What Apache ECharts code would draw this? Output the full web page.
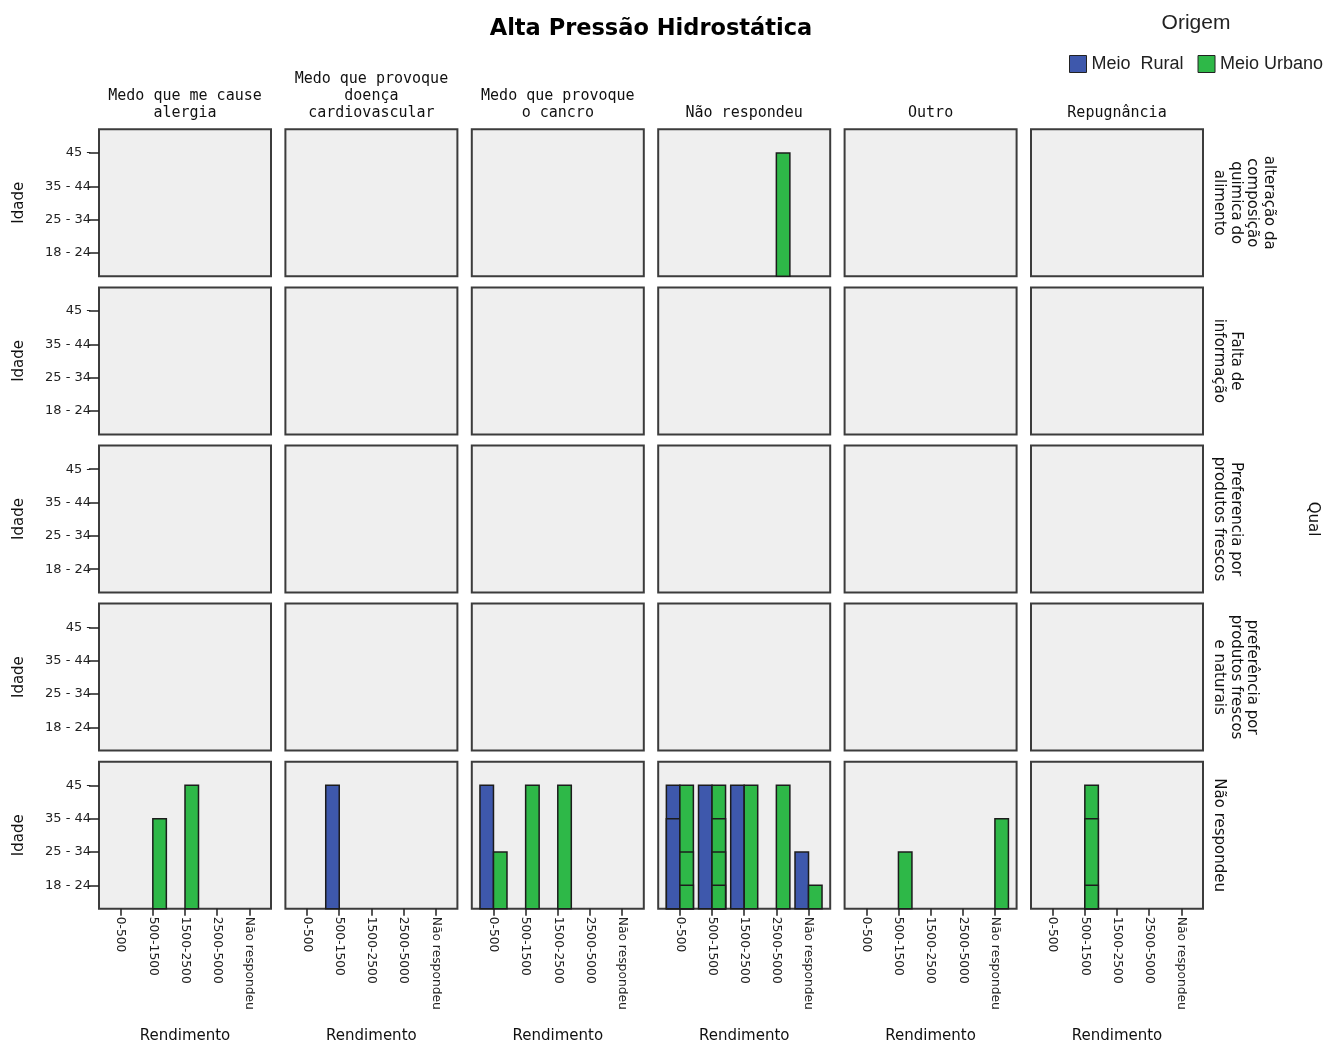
<!DOCTYPE html>
<html>
<head>
<meta charset="utf-8">
<script src="https://cdn.jsdelivr.net/npm/echarts@6/dist/echarts.min.js"></script>
<style>
  html, body { margin: 0; padding: 0; background: #fff; }
  #chart { width: 1330px; height: 1048px; }
</style>
</head>
<body>
<div id="chart"></div>
<script>
// Category labels
const ageLevels = ['18 - 24', '25 - 34', '35 - 44', '45 -'];
const incomeCats = ['0-500', '500-1500', '1500-2500', '2500-5000', 'Não respondeu'];
const reasonCols = [
  'Medo que me cause\nalergia',
  'Medo que provoque\ndoença\ncardiovascular',
  'Medo que provoque\no cancro',
  'Não respondeu',
  'Outro',
  'Repugnância'
];
const whichRows = [
  'alteração da\ncomposição\nquimica do\nalimento',
  'Falta de\ninformação',
  'Preferencia por\nprodutos frescos',
  'preferência por\nprodutos frescos\ne naturais',
  'Não respondeu'
];
const origins = ['Meio  Rural', 'Meio Urbano'];
const originColors = ['#3e58ac', '#2eb848'];

// Cases: [row (Qual), column (motivo), income index, age index]
const ruralCases = [
  [4, 1, 1, 3],
  [4, 2, 0, 3],
  [4, 3, 0, 3], [4, 3, 0, 2],
  [4, 3, 1, 3],
  [4, 3, 2, 3],
  [4, 3, 4, 1]
];
const urbanCases = [
  [0, 3, 3, 3],
  [4, 0, 1, 2], [4, 0, 2, 3],
  [4, 2, 0, 1], [4, 2, 1, 3], [4, 2, 2, 3],
  [4, 3, 0, 3], [4, 3, 0, 1], [4, 3, 0, 0],
  [4, 3, 1, 3], [4, 3, 1, 2], [4, 3, 1, 1], [4, 3, 1, 0],
  [4, 3, 2, 3],
  [4, 3, 3, 3],
  [4, 3, 4, 0],
  [4, 4, 1, 1], [4, 4, 4, 2],
  [4, 5, 1, 3], [4, 5, 1, 2], [4, 5, 1, 0]
];

// Panel layout
const COL_LEFT0 = 99, COL_STEP = 186.4, GRID_W = 172;
const ROW_TOP0 = 129.3, ROW_STEP = 158.1, GRID_H = 147;
const X_MIN = -0.674, X_MAX = 4.674;
const Y_MIN = -0.70, Y_MAX = 3.71;
const BAR_W = 0.42;

const nRows = whichRows.length, nCols = reasonCols.length;
const grids = [], xAxes = [], yAxes = [], series = [];
const TXT = '#111';

function makeRender(side) {
  return function (params, api) {
    const x = api.value(0), a = api.value(1);
    const top = api.coord([x, a]);
    const base = api.coord([x, Y_MIN]);
    const w = api.size([BAR_W, 0])[0];
    return {
      type: 'rect',
      shape: { x: side < 0 ? top[0] - w : top[0], y: top[1], width: w, height: base[1] - top[1] },
      style: { fill: api.visual('color'), stroke: '#1c1c1c', lineWidth: 1.5 }
    };
  };
}

let gi = 0;
for (let r = 0; r < nRows; r++) {
  for (let c = 0; c < nCols; c++) {
    const isBottom = r === nRows - 1, isLeft = c === 0;
    grids.push({
      left: COL_LEFT0 + c * COL_STEP, top: ROW_TOP0 + r * ROW_STEP,
      width: GRID_W, height: GRID_H,
      show: true, backgroundColor: '#efefef', borderColor: '#3c3c3c', borderWidth: 2
    });
    xAxes.push({
      type: 'value', gridIndex: gi, min: X_MIN, max: X_MAX, position: 'bottom',
      splitLine: { show: false }, axisLine: { show: false, onZero: false },
      axisTick: { show: isBottom, length: 7, customValues: [0, 1, 2, 3, 4], lineStyle: { color: '#222', width: 1.5 } },
      axisLabel: {
        show: isBottom, rotate: -90, margin: 8, customValues: [0, 1, 2, 3, 4],
        formatter: v => incomeCats[Math.round(v)],
        fontFamily: 'DejaVu Sans', fontSize: 12.3, color: '#222'
      },
      name: isBottom ? 'Rendimento' : '', nameLocation: 'middle', nameGap: 120,
      nameTextStyle: { fontFamily: 'DejaVu Sans', fontSize: 15, color: TXT }
    });
    yAxes.push({
      type: 'value', gridIndex: gi, min: Y_MIN, max: Y_MAX, position: 'left',
      splitLine: { show: false }, axisLine: { show: false, onZero: false },
      axisTick: { show: isLeft, length: 10, customValues: [0, 1, 2, 3], lineStyle: { color: '#222', width: 1.5 } },
      axisLabel: {
        show: isLeft, margin: 8, customValues: [0, 1, 2, 3],
        formatter: v => ageLevels[Math.round(v)],
        fontFamily: 'DejaVu Sans', fontSize: 13, color: '#222'
      },
      name: isLeft ? 'Idade' : '', nameLocation: 'middle', nameRotate: 90, nameGap: 72,
      nameTextStyle: { fontFamily: 'DejaVu Sans', fontSize: 15, color: TXT }
    });
    [ruralCases, urbanCases].forEach((cases, k) => {
      const pts = cases
        .filter(d => d[0] === r && d[1] === c)
        .map(d => [d[2], d[3]])
        .sort((p, q) => q[1] - p[1]); // taller bars first so shorter tops stay visible
      series.push({
        type: 'custom', name: origins[k], xAxisIndex: gi, yAxisIndex: gi,
        itemStyle: { color: originColors[k], borderColor: '#1c1c1c', borderWidth: 1 },
        renderItem: makeRender(k === 0 ? -1 : 1),
        encode: { x: 0, y: 1 },
        data: pts, silent: true
      });
    });
    gi++;
  }
}

const graphics = [];
// Chart title
graphics.push({
  type: 'text', x: COL_LEFT0 + ((nCols - 1) * COL_STEP + GRID_W) / 2, y: 29,
  style: { text: 'Alta Pressão Hidrostática', align: 'center', verticalAlign: 'middle',
           font: 'bold 22.5px "DejaVu Sans"', fill: '#000' }
});
// Legend heading
graphics.push({
  type: 'text', x: 1196, y: 23,
  style: { text: 'Origem', align: 'center', verticalAlign: 'middle',
           font: '21px "Liberation Sans"', fill: '#222' }
});
// Column headers
reasonCols.forEach((t, c) => {
  graphics.push({
    type: 'text', x: COL_LEFT0 + c * COL_STEP + GRID_W / 2, y: 122,
    style: { text: t, align: 'center', verticalAlign: 'bottom', lineHeight: 17,
             font: '15px "DejaVu Sans Mono"', fill: TXT }
  });
});
// Row headers (rotated)
whichRows.forEach((t, r) => {
  graphics.push({
    type: 'text', x: 1211, y: ROW_TOP0 + r * ROW_STEP + GRID_H / 2, rotation: -Math.PI / 2,
    style: { text: t, align: 'center', verticalAlign: 'bottom', lineHeight: 16.5,
             font: '15px "DejaVu Sans"', fill: TXT }
  });
});
graphics.push({
  type: 'text', x: 1313, y: ROW_TOP0 + 2 * ROW_STEP + GRID_H / 2, rotation: -Math.PI / 2,
  style: { text: 'Qual', align: 'center', verticalAlign: 'middle',
           font: '15px "DejaVu Sans"', fill: TXT }
});

const chart = echarts.init(document.getElementById('chart'), null, { renderer: 'canvas' });
chart.setOption({
  animation: false,
  backgroundColor: '#fff',
  legend: {
    data: origins, left: 1064, top: 50, icon: 'rect', itemWidth: 17, itemHeight: 17, itemGap: 14,
    itemStyle: { borderColor: '#222', borderWidth: 1 },
    textStyle: { fontFamily: 'Liberation Sans', fontSize: 18, color: '#222' },
    selectedMode: false
  },
  grid: grids,
  xAxis: xAxes,
  yAxis: yAxes,
  series: series,
  graphic: graphics
});
</script>
</body>
</html>
